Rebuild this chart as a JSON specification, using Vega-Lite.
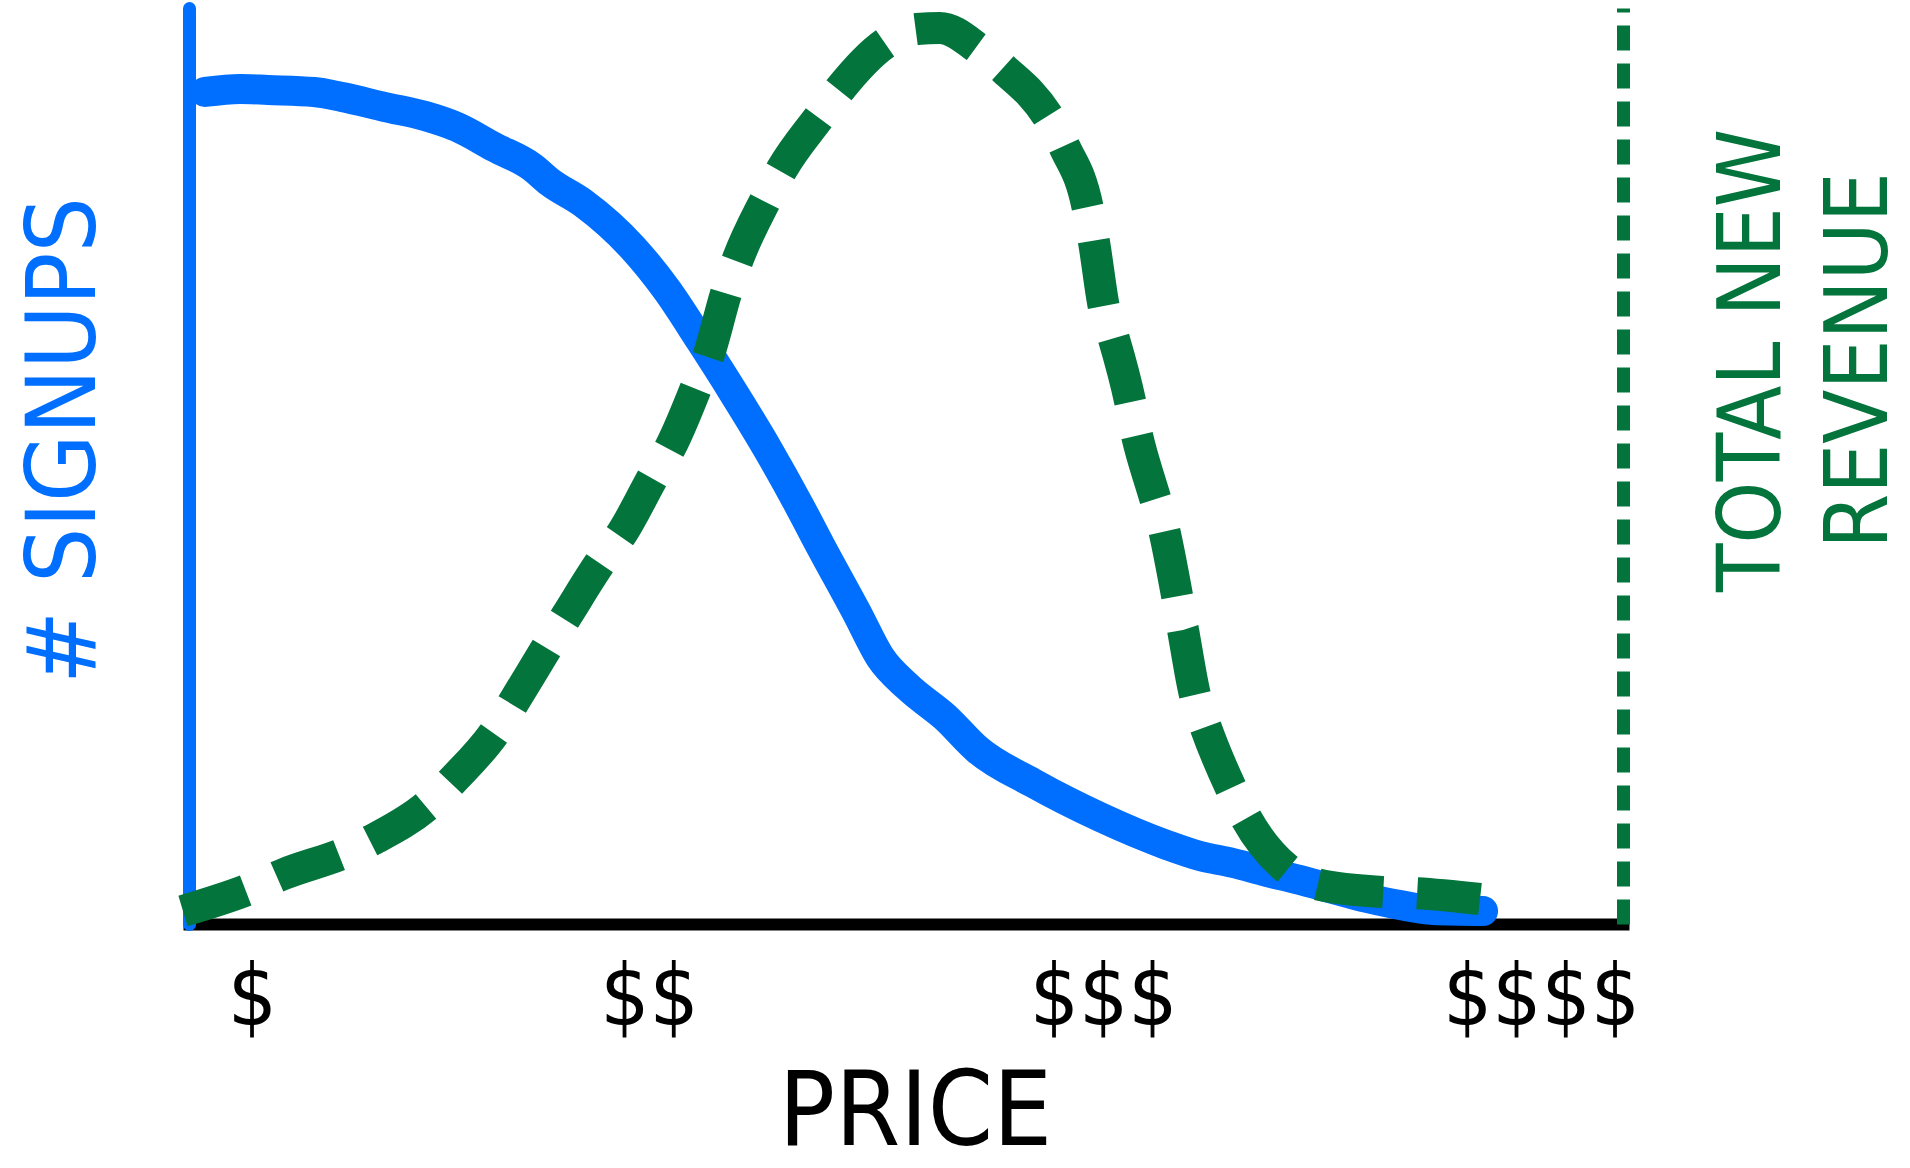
{
  "$schema": "https://vega.github.io/schema/vega-lite/v6.json",
  "width": 1434,
  "height": 916,
  "autosize": {"type": "none"},
  "padding": {"left": 189, "top": 8, "right": 287, "bottom": 244},
  "background": "white",
  "config": {
    "view": {"stroke": null},
    "axis": {"grid": false, "ticks": false, "tickSize": 0, "titleFontWeight": "normal", "labelFontWeight": "normal"}
  },
  "datasets": {
    "signups": [
      {"price": 1.12, "value": 90.83},
      {"price": 3.56, "value": 91.16},
      {"price": 5.51, "value": 91.05},
      {"price": 8.72, "value": 90.83},
      {"price": 10.67, "value": 90.28},
      {"price": 13.67, "value": 89.19},
      {"price": 16.46, "value": 88.21},
      {"price": 18.69, "value": 87.01},
      {"price": 21.27, "value": 84.83},
      {"price": 23.92, "value": 82.64},
      {"price": 25.17, "value": 81.0},
      {"price": 27.48, "value": 78.71},
      {"price": 30.96, "value": 73.8},
      {"price": 33.33, "value": 69.21},
      {"price": 35.63, "value": 63.76},
      {"price": 37.94, "value": 58.08},
      {"price": 40.31, "value": 51.97},
      {"price": 42.61, "value": 45.52},
      {"price": 44.0, "value": 41.38},
      {"price": 46.58, "value": 33.95},
      {"price": 48.19, "value": 29.15},
      {"price": 50.14, "value": 25.87},
      {"price": 52.72, "value": 22.6},
      {"price": 55.02, "value": 19.0},
      {"price": 58.86, "value": 15.39},
      {"price": 63.53, "value": 11.68},
      {"price": 68.2, "value": 8.62},
      {"price": 70.5, "value": 7.42},
      {"price": 72.8, "value": 6.66},
      {"price": 75.17, "value": 5.68},
      {"price": 77.48, "value": 4.8},
      {"price": 79.78, "value": 3.82},
      {"price": 82.15, "value": 2.84},
      {"price": 84.45, "value": 2.07},
      {"price": 86.75, "value": 1.53},
      {"price": 90.24, "value": 1.42}
    ],
    "revenue": [
      {"price": -0.42, "value": 1.42},
      {"price": 4.39, "value": 3.93},
      {"price": 6.62, "value": 5.46},
      {"price": 10.81, "value": 7.75},
      {"price": 13.04, "value": 9.39},
      {"price": 16.81, "value": 13.21},
      {"price": 18.48, "value": 15.83},
      {"price": 21.48, "value": 21.29},
      {"price": 22.73, "value": 24.45},
      {"price": 25.1, "value": 30.57},
      {"price": 26.36, "value": 33.73},
      {"price": 28.8, "value": 39.74},
      {"price": 30.2, "value": 42.69},
      {"price": 32.43, "value": 49.02},
      {"price": 33.61, "value": 52.18},
      {"price": 35.43, "value": 58.84},
      {"price": 36.26, "value": 62.23},
      {"price": 37.52, "value": 69.21},
      {"price": 38.28, "value": 72.6},
      {"price": 40.24, "value": 79.15},
      {"price": 41.35, "value": 82.42},
      {"price": 44.0, "value": 88.21},
      {"price": 45.4, "value": 91.16},
      {"price": 48.68, "value": 96.29},
      {"price": 50.77, "value": 97.71},
      {"price": 52.37, "value": 97.82},
      {"price": 55.09, "value": 95.52},
      {"price": 56.9, "value": 93.23},
      {"price": 59.97, "value": 87.99},
      {"price": 61.09, "value": 84.72},
      {"price": 62.69, "value": 78.06},
      {"price": 63.11, "value": 74.45},
      {"price": 63.81, "value": 67.25},
      {"price": 64.5, "value": 63.86},
      {"price": 65.62, "value": 57.1},
      {"price": 66.04, "value": 53.82},
      {"price": 67.22, "value": 47.27},
      {"price": 67.85, "value": 44.0},
      {"price": 68.83, "value": 36.46},
      {"price": 69.32, "value": 32.1},
      {"price": 70.15, "value": 25.0},
      {"price": 70.92, "value": 21.4},
      {"price": 72.66, "value": 14.85},
      {"price": 73.71, "value": 11.57},
      {"price": 76.5, "value": 6.11},
      {"price": 78.59, "value": 4.37},
      {"price": 83.19, "value": 3.49},
      {"price": 85.5, "value": 3.38},
      {"price": 90.03, "value": 2.73}
    ]
  },
  "encoding": {
    "x": {
      "field": "price",
      "type": "quantitative",
      "scale": {"domain": [0, 100], "nice": false, "zero": false},
      "axis": {
        "values": [4.39, 32.08, 63.74, 94.28],
        "labelExpr": "datum.value < 10 ? '$' : datum.value < 40 ? '$$' : datum.value < 70 ? '$$$' : '$$$$'",
        "labelFont": "DejaVu Sans Condensed, DejaVu Sans, sans-serif",
        "labelFontSize": 86,
        "labelLimit": 0,
        "labelColor": "black",
        "labelBaseline": "middle",
        "labelAlign": "center",
        "labelPadding": 74,
        "labelOverlap": false,
        "labelFlush": false,
        "domainColor": "black",
        "domainWidth": 12,
        "domainCap": "square",
        "title": "PRICE",
        "titleFont": "DejaVu Sans Condensed, DejaVu Sans, sans-serif",
        "titleFontSize": 104,
        "titleColor": "black",
        "titleAngle": 0,
        "titleAlign": "center",
        "titleBaseline": "bottom",
        "titleX": 726,
        "titleY": 242
      }
    }
  },
  "layer": [
    {
      "data": {"name": "signups"},
      "mark": {"type": "line", "color": "#006FFF", "strokeWidth": 30, "strokeCap": "round", "strokeJoin": "round", "interpolate": "monotone"},
      "encoding": {
        "y": {
          "field": "value",
          "type": "quantitative",
          "scale": {"domain": [0, 100], "nice": false, "zero": false},
          "axis": {
            "orient": "left",
            "labels": false,
            "domainColor": "#006FFF",
            "domainWidth": 13,
            "domainCap": "round",
            "title": "# SIGNUPS",
            "titleFont": "DejaVu Sans Condensed, DejaVu Sans, sans-serif",
            "titleFontSize": 97,
            "titleColor": "#006FFF",
            "titleAngle": 270,
            "titleAlign": "center",
            "titleBaseline": "middle",
            "titleX": -124,
            "titleY": 432
          }
        }
      }
    },
    {
      "data": {"name": "revenue"},
      "mark": {"type": "line", "color": "#03743B", "strokeWidth": 32, "strokeCap": "butt", "strokeDash": [66, 34], "interpolate": "monotone"},
      "encoding": {
        "y": {
          "field": "value",
          "type": "quantitative",
          "scale": {"domain": [0, 100], "nice": false, "zero": false},
          "axis": {
            "orient": "right",
            "labels": false,
            "domainColor": "#03743B",
            "domainWidth": 13,
            "domainDash": [25, 13],
            "title": ["TOTAL NEW", "REVENUE"],
            "titleFont": "DejaVu Sans Condensed, DejaVu Sans, sans-serif",
            "titleFontSize": 88,
            "titleLineHeight": 107,
            "titleColor": "#03743B",
            "titleAngle": 270,
            "titleAlign": "center",
            "titleBaseline": "middle",
            "titleX": 130,
            "titleY": 352
          }
        }
      }
    }
  ],
  "resolve": {"scale": {"y": "independent"}, "axis": {"y": "independent"}}
}
